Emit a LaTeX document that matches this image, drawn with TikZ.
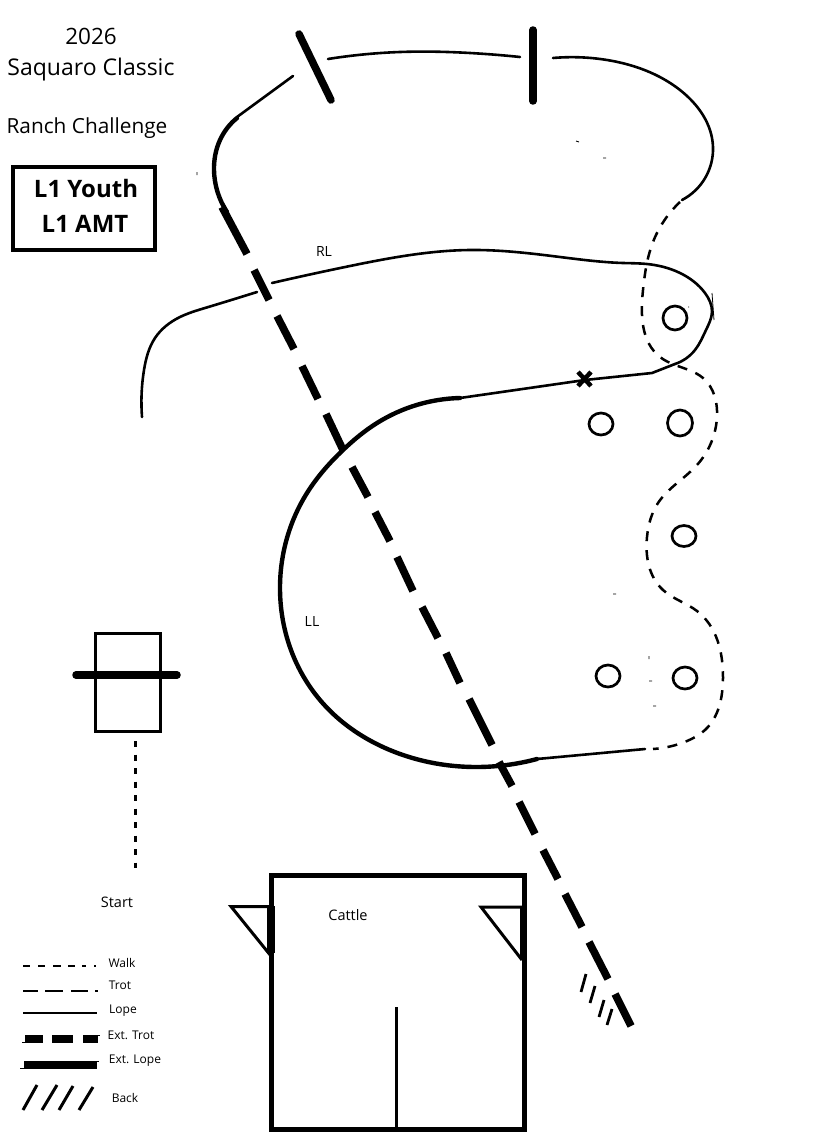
\documentclass[tikz,border=0pt]{standalone}
\usepackage{fontspec}
\setmainfont{Open Sans}
\usetikzlibrary{shapes.geometric,hobby}
\tikzset{
  lopeline/.style={line width=2.6pt,line cap=round,line join=round,use Hobby shortcut},
  heavylope/.style={line width=4.4pt,line cap=round,line join=round,use Hobby shortcut},
  walkline/.style={line width=2.5pt,dash pattern=on 10pt off 9pt,use Hobby shortcut},
  exttrot/.style={line width=7.6pt},
  barrier/.style={line width=7.5pt,line cap=round},
  cone/.style={draw,line width=2.7pt,ellipse,inner sep=0pt},
  outline/.style={line width=3pt,line join=miter},
  speck/.style={line width=0.8pt},
  legthin/.style={line width=1.3pt},
  backstep/.style={line width=2.8pt},
  label/.style={inner sep=0pt,anchor=center,text=black},
}
\begin{document}
\begin{tikzpicture}[x=1pt,y=-1pt]
\useasboundingbox (0,0) rectangle (829,1148);
\fill[white] (0,0) rectangle (829,1148);

% titles
\node[label,font=\fontsize{22.5}{26}\selectfont] (year) at (91,36) {2026};
\node[label,font=\fontsize{23}{26}\selectfont] (show) at (91,70) {Saquaro Classic};
\node[label,font=\fontsize{20.8}{24}\selectfont] (ranch) at (87,128) {Ranch Challenge};
\draw[line width=4.2pt] (13,167) rectangle (155,250);
\node[label,font=\fontsize{24}{30}\bfseries\selectfont] (youth) at (86,188) {L1 Youth};
\node[label,font=\fontsize{24}{30}\bfseries\selectfont] (amt) at (85,224) {L1 AMT};

% pattern: lope, top loop
\draw[line width=2.6pt,line cap=round] (293,76) -- (237,117);
\draw[heavylope] (237,118) .. (220,140) .. (214,170) .. (227,212);
\draw[lopeline] (328,59) .. (400,52) .. (470,53) .. (520,57);
\draw[lopeline] (553,58) .. (607,60) .. (680,90) .. (713,147) .. (682,200);

% walk
\draw[walkline] (680,202) .. (653,242) .. (643,290) .. (660,357) .. (675,365) .. (703,378) .. (717,417) .. (697,465) .. (658,503) .. (647,537) .. (663,590) .. (697,611) .. (723,678) .. (705,730) .. (687,741) .. (653,749);

% right lead loop
\draw[lopeline] (142,417) .. (144,370) .. (155,338) .. (180,317) .. (205,308) .. (257,292);
\draw[lopeline] (272,283) .. (350,266) .. (470,250) .. (560,257) .. (623,263) .. (647,264) .. (680,273) .. (705,293) .. (712,312) .. (706,330) .. (695,350) .. (675,364);
\draw[line width=2.6pt,line cap=round,line join=round] (675,364) -- (652,373) -- (585,380) -- (460,398);

% left lead circle
\draw[heavylope] (460,398) .. (377,423) .. (343,450) .. (307,493) .. (280,587) .. (320,700) .. (403,755) .. (477,767) .. (537,759);
\draw[line width=2.6pt,line cap=round] (537,759) -- (645,749);
\draw[speck] (712,293) -- (714,320);

% X marker
\draw[line width=4.5pt] (578,372) -- (591,386) (591,372) -- (578,386);

% extended trot
\foreach \a/\b/\c/\d in {222/207/247/254,254/270/269/300,277/316/294/349,302/366/318/399,326/414/343/450,352/467/368/497,375/512/390/541,397/557/413/591,422/607/438/638,446/653/460/683,469/699/492/745,499/762/512/786,519/802/535/834,543/850/558/879,565/894/582/927,589/942/608/979,615/994/631/1026}
  \draw[exttrot] (\a,\b) -- (\c,\d);

% back
\draw[backstep] (586,974) -- (581,992) (595,986) -- (590,1003) (604,1000) -- (599,1017) (612,1009) -- (607,1025);

% barriers
\draw[barrier] (299,34) -- (331,100);
\draw[barrier] (533,30) -- (533,101);

% cones
\node[cone,minimum width=24pt,minimum height=24pt] (c1) at (675,318) {};
\node[cone,minimum width=24pt,minimum height=22pt] (c2) at (601,424) {};
\node[cone,minimum width=25pt,minimum height=26pt] (c3) at (680,423) {};
\node[cone,minimum width=24pt,minimum height=21pt] (c4) at (684,536) {};
\node[cone,minimum width=24pt,minimum height=22pt] (c5) at (608,676) {};
\node[cone,minimum width=24pt,minimum height=22pt] (c6) at (685,678) {};

% start box
\draw[outline] (95,633) rectangle (160,731);
\draw[barrier] (76,675) -- (177,675);
\draw[line width=3pt,dash pattern=on 6pt off 7.5pt] (135,741) -- (135,868);
\node[label,font=\fontsize{14.5}{16}\selectfont] (start) at (117,902) {Start};

% lead labels
\node[label,font=\fontsize{14}{16}\selectfont] (rl) at (324,252) {RL};
\node[label,font=\fontsize{14}{16}\selectfont] (ll) at (312,621) {LL};

% cattle arena
\draw[line width=5pt] (271.5,875.5) rectangle (524,1129.5);
\draw[line width=3pt] (396,1007) -- (396,1129);
\draw[outline] (271,906.5) -- (231,906.5) -- (271,956);
\draw[line width=8pt] (271,906) -- (271,953);
\draw[outline] (522,907) -- (481,907) -- (522,960);
\draw[line width=6pt] (522.7,907) -- (522.7,958);
\node[label,font=\fontsize{14.5}{16}\selectfont] (cattle) at (348,915) {Cattle};

% legend
\foreach \a/\b in {23/30,38/45,53/61,68/75,82/86,94/96} \draw[legthin] (\a,966) -- (\b,966);
\foreach \a/\b in {23/38,45/63,71/88,95/98} \draw[legthin] (\a,991) -- (\b,991);
\draw[line width=1.4pt] (23,1013) -- (97,1013);
\foreach \a/\b in {25/43,52/73,83/98} \draw[line width=8pt] (\a,1039) -- (\b,1039);
\draw[speck] (22,1042.5) -- (25,1042.5) (98,1035.5) -- (100,1035.5);
\draw[line width=8pt] (24,1065) -- (97,1065);
\draw[speck] (20,1068) -- (24,1068) (97,1061) -- (99,1061);
\foreach \a/\b/\c/\d in {37/1085/23/1110,57/1085/42/1110,73/1086/59/1110,93/1087/79/1110}
  \draw[line width=3pt] (\a,\b) -- (\c,\d);
\node[label,font=\fontsize{12}{14}\selectfont] (lwalk) at (122,963) {Walk};
\node[label,font=\fontsize{12}{14}\selectfont] (ltrot) at (120,985) {Trot};
\node[label,font=\fontsize{12}{14}\selectfont] (llope) at (123,1011) {Lope};
\node[label,font=\fontsize{12}{14}\selectfont] (letrot) at (131,1035) {Ext. Trot};
\node[label,font=\fontsize{12}{14}\selectfont] (lelope) at (135,1061) {Ext. Lope};
\node[label,font=\fontsize{12}{14}\selectfont] (lback) at (125,1098) {Back};

% specks
\draw[speck] (197,172) -- (197,175) (576,141) -- (579,142) (603,158) -- (606,158) (613,594) -- (616,594) (649,656) -- (649,659) (649,681) -- (652,681) (653,706) -- (656,706) (688,307) -- (689,307);
\end{tikzpicture}
\end{document}
